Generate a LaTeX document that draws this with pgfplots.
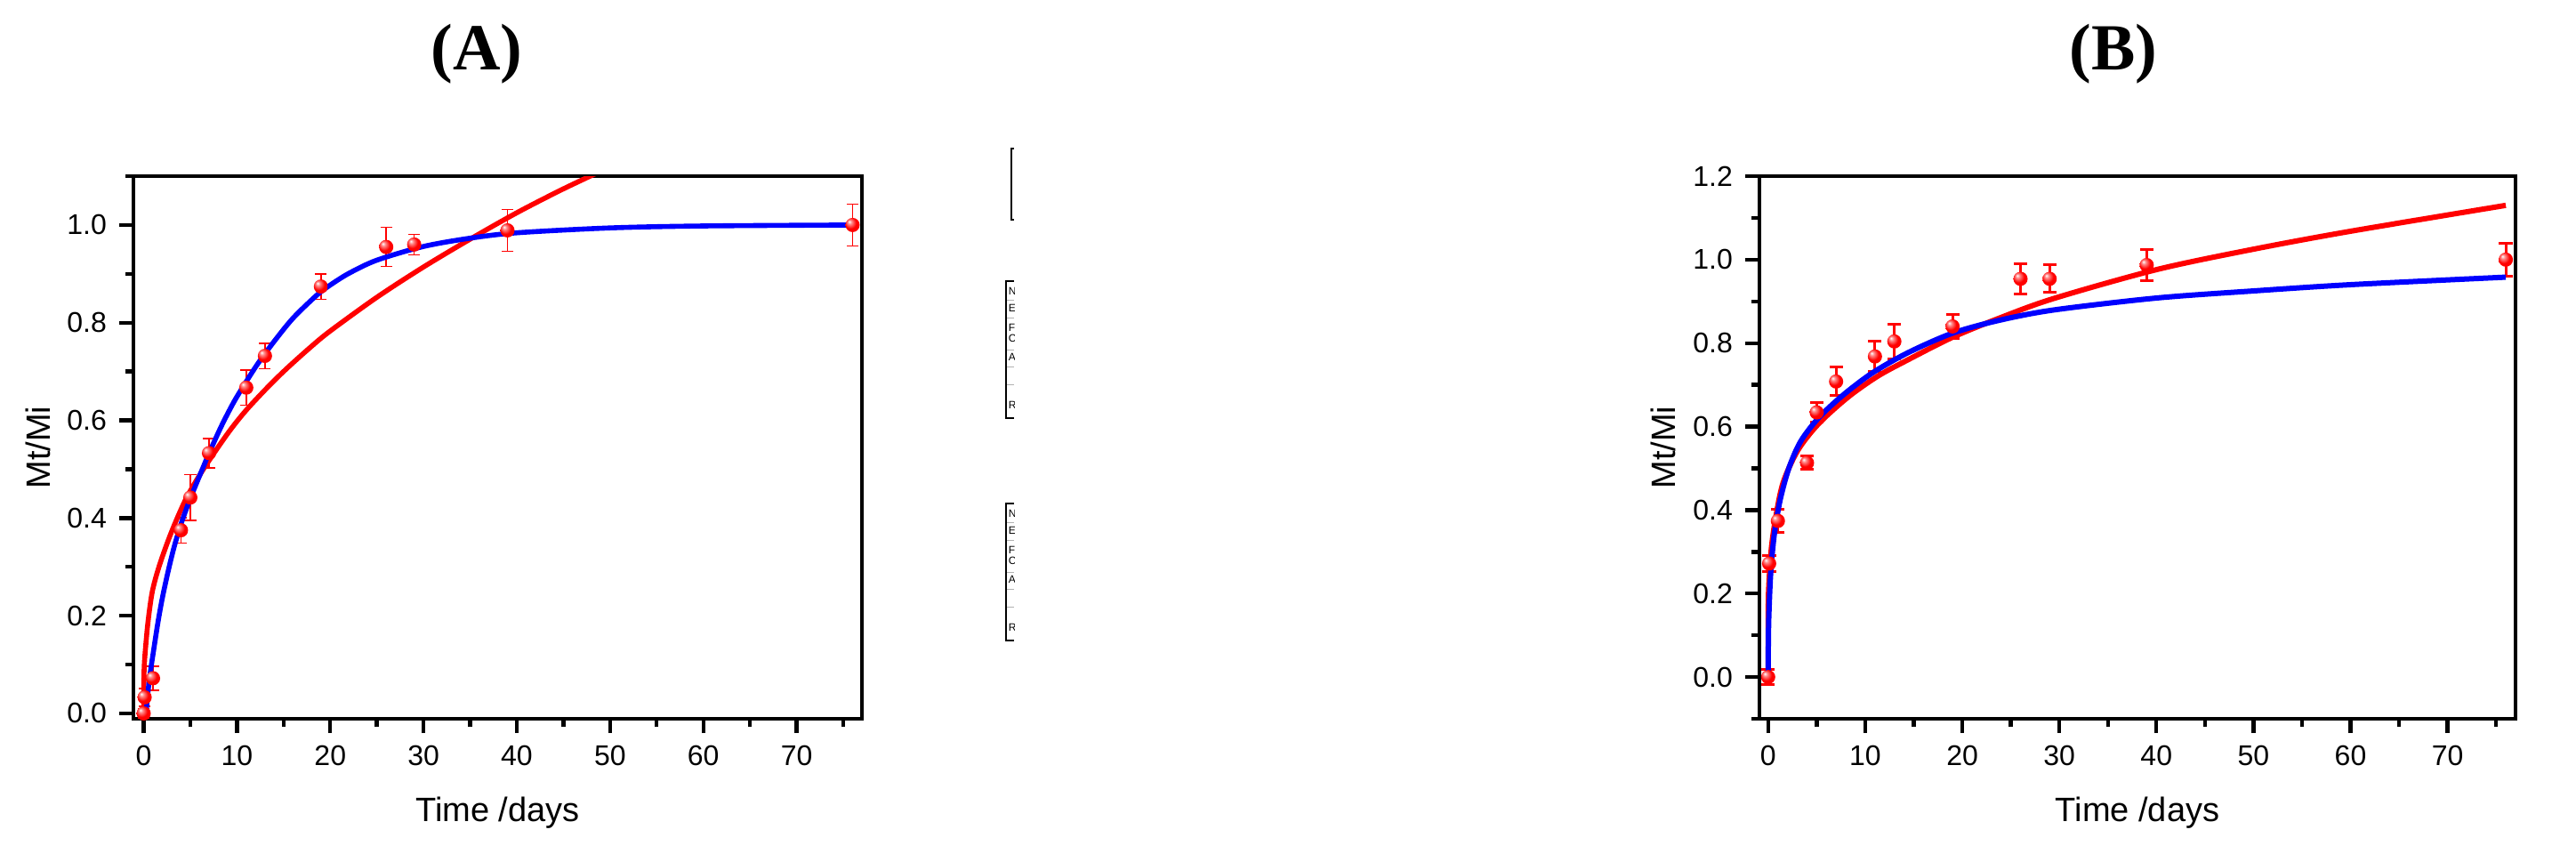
\documentclass[border=0pt]{standalone}
\usepackage{fontspec}
\setmainfont{Liberation Sans}
\newfontfamily\titleserif{Liberation Serif}
\usepackage{pgfplots}
\usepackage{pgfplotstable}
\pgfplotsset{compat=1.18}

% shiny red ball used for the measured points
\pgfdeclareradialshading{redball}{\pgfpoint{-12bp}{12bp}}{%
  color(0bp)=(white); color(7bp)=(red!45!white); color(20bp)=(red);
  color(50bp)=(red)}
\pgfdeclareplotmark{redball}{%
  \pgfpathcircle{\pgfpointorigin}{\pgfplotmarksize}%
  \pgfshadepath{redball}{0}%
  \pgfusepath{discard}}

% release data: time (days), Mt/Mi, error
\pgfplotstableread{
t    m     e
0    0.000 0.010
0.1  0.033 0.018
1    0.072 0.025
4    0.375 0.026
5    0.442 0.047
7    0.533 0.030
11   0.667 0.036
13   0.732 0.026
19   0.874 0.026
26   0.955 0.040
29   0.960 0.021
39   0.989 0.043
76   1.000 0.043
}\dataA

\pgfplotstableread{
t    m     e
0    0.000 0.018
0.1  0.272 0.020
1    0.374 0.027
4    0.513 0.016
5    0.634 0.023
7    0.708 0.034
11   0.768 0.036
13   0.804 0.042
19   0.840 0.028
26   0.954 0.037
29   0.954 0.033
39   0.987 0.037
76   1.000 0.040
}\dataB

\pgfplotsset{
  release/.style={
    scale only axis,
    height=152.5pt,
    xmax=77,
    xtick={0,10,...,70},
    minor xtick={5,15,...,75},
    tick pos=left,
    tick align=outside,
    major tick length=4pt,
    minor tick length=2.2pt,
    tick style={line width=1.1pt, black},
    axis line style={line width=1.2pt},
    tick label style={font=\fontsize{8}{9.6}\selectfont},
    label style={font=\fontsize{9.5}{11}\selectfont},
    /pgf/number format/assume math mode=true,
    yticklabel style={/pgf/number format/fixed,
      /pgf/number format/fixed zerofill,
      /pgf/number format/precision=1},
    xlabel={Time /days},
    ylabel={Mt/Mi},
    x label style={at={(axis description cs:0.5,-0.174)}, anchor=center},
  },
  pts/.style={only marks, mark=redball, mark size=2pt,
    error bars/.cd, y dir=both, y explicit},
}

\begin{document}
\begin{tikzpicture}
\path[use as bounding box] (0,0) rectangle (724pt,242pt);

% ---------- (A) ----------
\begin{axis}[release,
  at={(37.5pt,40pt)}, anchor=south west,
  width=204.75pt,
  xmin=-1.1,
  ymin=-0.011, ymax=1.1,
  ytick={0,0.2,...,1.0},
  minor ytick={0.1,0.3,...,1.1},
  y label style={at={(axis description cs:-0.131,0.5)}, anchor=center},
  error bars/error bar style={red, line width=0.4pt},
  error bars/error mark options={rotate=90, red, mark size=1.65pt, line width=0.4pt},
]
\addplot[pts] table[x=t, y=m, y error=e] {\dataA};
% power-law fit
\addplot[red, line width=1.4pt, smooth] coordinates {
  (0,0) (0.01,0.05) (0.04,0.085) (0.13,0.118) (0.45,0.185) (0.93,0.25)
  (1.72,0.305) (2.99,0.372) (4.58,0.441) (6.5,0.503) (9.04,0.574)
  (11,0.621) (13.5,0.672) (15.5,0.709) (17.96,0.751) (20,0.783)
  (25,0.852) (30,0.914) (35,0.971) (40,1.025) (45,1.074) (50,1.119)};
% first-order fit
\addplot[blue, line width=1.4pt, smooth] coordinates {
  (0.2,0) (0.29,0.01) (0.61,0.07) (1.08,0.131) (1.56,0.19) (2.04,0.24)
  (2.67,0.295) (3.31,0.344) (4.11,0.394) (5.06,0.443) (6.18,0.495)
  (7.13,0.538) (8.4,0.591) (9.68,0.638) (10.95,0.678) (12.2,0.715)
  (13.8,0.757) (16,0.809) (18.6,0.857) (20,0.877) (22,0.901) (25,0.928)
  (30,0.956) (35,0.973) (40,0.984) (50,0.994) (60,0.998) (76,1.0)};
\end{axis}

% ---------- (B) ----------
\begin{axis}[release,
  at={(494.5pt,40pt)}, anchor=south west,
  width=212.5pt,
  xmin=-0.9,
  ymin=-0.1, ymax=1.2,
  ytick={0,0.2,...,1.2},
  minor ytick={-0.1,0.1,...,1.1},
  y label style={at={(axis description cs:-0.127,0.5)}, anchor=center},
  error bars/error bar style={red, line width=0.75pt},
  error bars/error mark options={rotate=90, red, mark size=1.9pt, line width=0.75pt},
]
\addplot[pts] table[x=t, y=m, y error=e] {\dataB};
\addplot[red, line width=1.5pt, smooth] coordinates {
  (0,0) (0.01,0.148) (0.05,0.21) (0.3,0.302) (0.76,0.38) (1.53,0.465)
  (3.05,0.543) (5.2,0.607) (8.25,0.671) (11.3,0.721) (14.4,0.76)
  (18.9,0.813) (23.5,0.857) (29.3,0.906) (40,0.976) (50,1.025)
  (60,1.068) (76,1.13)};
\addplot[blue, line width=1.5pt, smooth] coordinates {
  (0,0) (0.01,0.06) (0.06,0.14) (0.25,0.245) (0.61,0.338) (1.22,0.423)
  (2.14,0.501) (3.36,0.565) (5.2,0.621) (7.64,0.674) (10.7,0.728)
  (14.4,0.777) (18.9,0.823) (23.5,0.853) (29.3,0.879) (40,0.908)
  (50,0.925) (60,0.94) (76,0.958)};
\end{axis}

% panel titles and clipped table fragments (pixel coordinates)
\begin{scope}[x=0.25pt, y=-0.25pt, yshift=242pt]
  \node[font=\titleserif\bfseries\fontsize{18.5}{22}\selectfont] at (536,61) {(A)};
  \node[font=\titleserif\bfseries\fontsize{18.5}{22}\selectfont] at (2376,61) {(B)};
  \draw[line width=0.3pt] (1140,167) -- (1137,167) -- (1137,247) -- (1140,247);
  \foreach \o in {0,250} {
    \draw[line width=0.3pt] (1140,316+\o) -- (1131,316+\o) -- (1131,470+\o) -- (1140,470+\o);
    \foreach \g in {337,357,393,412,432}
      \draw[gray!60, line width=0.25pt] (1132,\g+\o) -- (1140,\g+\o);
  }
  \begin{scope}
    \clip (1132,300) rectangle (1140,730);
    \foreach \o in {0,250} {
      \foreach \yy/\c in {327/N,346/E,368/F,380/C,401/A,455/R}
        \node[anchor=west, inner sep=0pt, font=\fontsize{3}{3}\selectfont] at (1133,\yy+\o) {\c};
    }
  \end{scope}
\end{scope}
\end{tikzpicture}
\end{document}
